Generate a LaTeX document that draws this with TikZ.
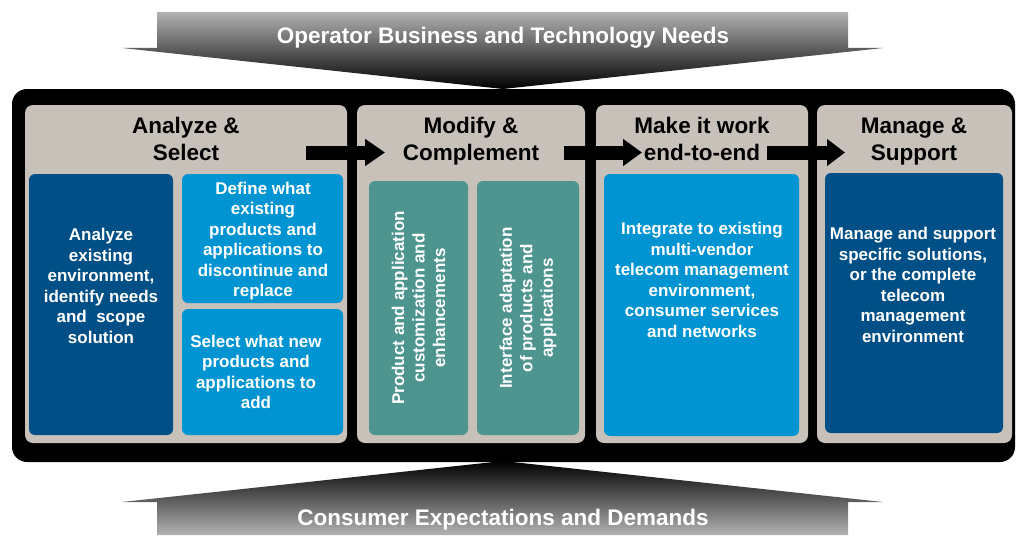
\documentclass[tikz,border=0pt]{standalone}
\usepackage{fontspec}
\setmainfont{Liberation Sans}
\usetikzlibrary{arrows.meta}
\definecolor{frame}{RGB}{0,0,0}
\definecolor{panelbg}{RGB}{200,193,186}
\definecolor{darkblue}{RGB}{0,79,134}
\definecolor{lightblue}{RGB}{0,148,210}
\definecolor{teal}{RGB}{78,149,144}
\definecolor{greytop}{RGB}{178,178,178}
\definecolor{greymid}{RGB}{112,112,112}
\tikzset{
  panel/.style={fill=panelbg, rounded corners=8pt, inner sep=0pt, outer sep=0pt},
  cell/.style={rounded corners=6pt, inner sep=0pt, outer sep=0pt},
  title/.style={align=center, font=\bfseries\fontsize{22.5}{27}\selectfont, text=black, inner sep=0pt},
  body/.style={align=center, font=\bfseries\fontsize{17}{20.5}\selectfont, text=white, inner sep=0pt},
  bandtext/.style={font=\bfseries\fontsize{22.5}{27}\selectfont, text=white},
  flowarrow/.style={line width=14pt, -{Triangle[length=20pt, width=26pt]}, black},
}
\begin{document}
\begin{tikzpicture}[x=1pt, y=-1pt]
\useasboundingbox (0,0) rectangle (1016,535);

% upper band arrow pointing down
\shade[top color=greytop, middle color=greymid, bottom color=black]
  (157,12) -- (848,12) -- (848,48) -- (883,48) -- (503,89) -- (122,48) -- (157,48) -- cycle;
\node[bandtext] (needs) at (503,38) {Operator Business and Technology Needs};

% lower band arrow pointing up
\shade[top color=black, middle color=greymid, bottom color=greytop]
  (503,461) -- (883,502) -- (848,502) -- (848,535) -- (157,535) -- (157,502) -- (122,502) -- cycle;
\node[bandtext] (demands) at (503,520) {Consumer Expectations and Demands};

% black frame
\fill[frame, rounded corners=15pt] (12,89) rectangle (1015,462);

% four stage panels
\node[panel, minimum width=322, minimum height=338] (p1) at (186,274) {};
\node[panel, minimum width=228, minimum height=338] (p2) at (471,274) {};
\node[panel, minimum width=212, minimum height=338] (p3) at (702,274) {};
\node[panel, minimum width=195, minimum height=338] (p4) at (914.5,274) {};

% stage 1 cells
\node[cell, fill=darkblue, minimum width=144, minimum height=261] (c1) at (101,304.5) {};
\node[cell, fill=lightblue, minimum width=161, minimum height=129] (c2) at (262.5,238.5) {};
\node[cell, fill=lightblue, minimum width=161, minimum height=126] (c3) at (262.5,372) {};
% stage 2 cells
\node[cell, fill=teal, minimum width=99, minimum height=254] (c4) at (418.5,308) {};
\node[cell, fill=teal, minimum width=102, minimum height=254] (c5) at (528,308) {};
% stage 3 cell
\node[cell, fill=lightblue, minimum width=195, minimum height=262] (c6) at (701.5,305) {};
% stage 4 cell
\node[cell, fill=darkblue, minimum width=178, minimum height=260] (c7) at (914,303) {};

% flow arrows between stages
\coordinate (a1s) at (306,152.5); \coordinate (a1e) at (385,152.5);
\coordinate (a2s) at (564,152.5); \coordinate (a2e) at (642,152.5);
\coordinate (a3s) at (767,152.5); \coordinate (a3e) at (845,152.5);
\draw[flowarrow] (a1s) -- (a1e);
\draw[flowarrow, -{Triangle[length=19pt, width=26pt]}] (a2s) -- (a2e);
\draw[flowarrow, -{Triangle[length=18pt, width=26pt]}] (a3s) -- (a3e);

% stage titles (struts keep every title on the same baselines)
\node[title] (t1) at (186,141.5) {\strut Analyze \&\\\strut Select};
\node[title] (t2) at (471,141.5) {\strut Modify \&\\\strut Complement};
\node[title] (t3) at (702,141.5) {\strut Make it work\\\strut end-to-end};
\node[title] (t4) at (914,141.5) {\strut Manage \&\\\strut Support};

% cell texts
\node[body] (x1) at (101,286) {Analyze\\existing\\environment,\\identify needs\\and\ \ scope\\solution};
\node[body] (x2) at (263,241) {Define what\\existing\\products and\\applications to\\discontinue and\\replace};
\node[body] (x3) at (256,372) {Select what new\\products and\\applications to\\add};
\node[body, rotate=90] (x4) at (418.5,308) {Product and application\\customization and\\enhancements};
\node[body, rotate=90] (x5) at (528,308) {Interface adaptation\\of products and\\applications};
\node[body] (x6) at (702,280) {Integrate to existing\\multi-vendor\\telecom management\\environment,\\consumer services\\and networks};
\node[body] (x7) at (913,285) {Manage and support\\specific solutions,\\or the complete\\telecom\\management\\environment};
\end{tikzpicture}
\end{document}
